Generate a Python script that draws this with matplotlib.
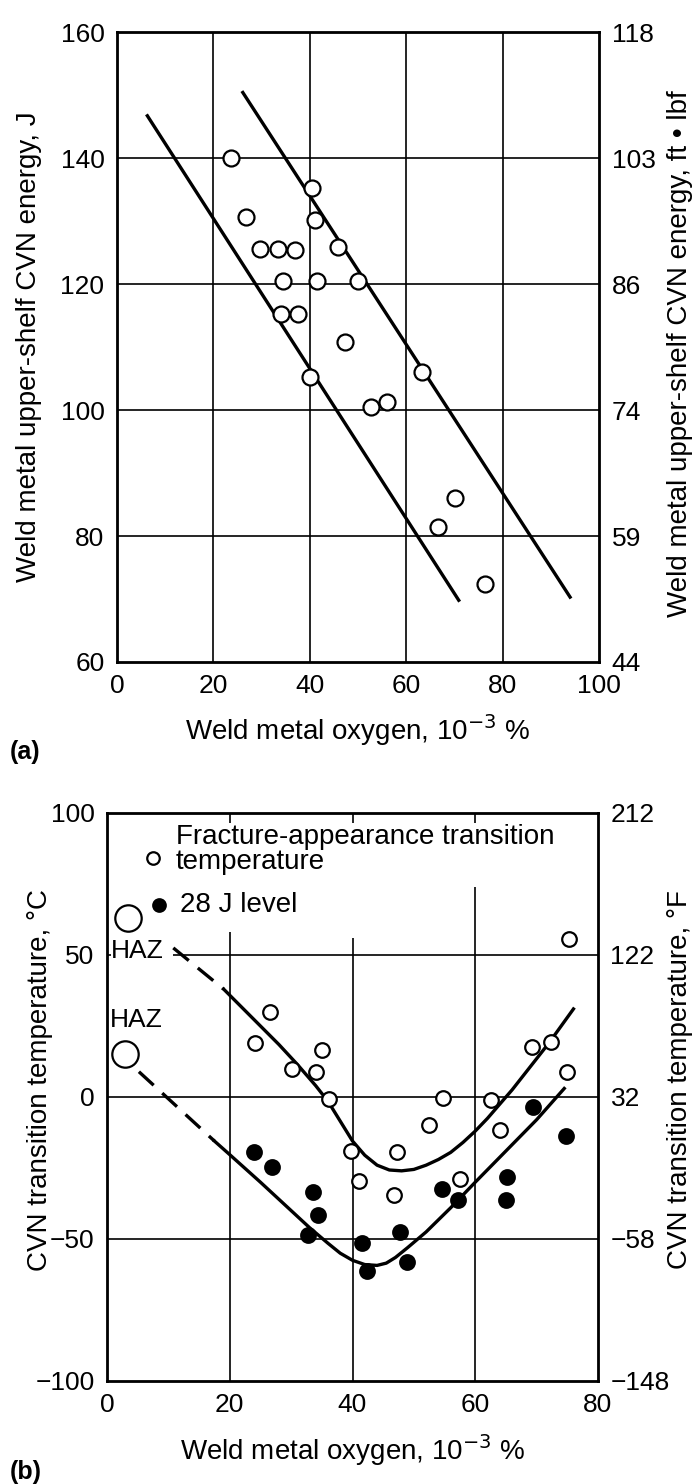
import numpy as np
import matplotlib
matplotlib.use("Agg")
import matplotlib.pyplot as plt

plt.rcParams['font.family'] = ['Liberation Sans', 'DejaVu Sans']

# (a) upper-shelf CVN energy vs oxygen
a_oxygen = [23.6, 26.8, 29.6, 33.4, 36.9, 34.4, 41.5, 50.1, 45.9, 40.4, 41.0, 34.1, 37.6,
            47.2, 40.0, 63.2, 52.8, 56.1, 70.1, 66.7, 76.4]
a_energy = [140, 130.7, 125.6, 125.6, 125.4, 120.5, 120.4, 120.5, 125.8, 135.2, 130.1, 115.3, 115.3,
            110.8, 105.2, 106.1, 100.4, 101.2, 86.0, 81.4, 72.4]
a_line_lo_x = [6.3, 70.9]
a_line_lo_y = [146.7, 69.8]
a_line_hi_x = [26.1, 94.0]
a_line_hi_y = [150.4, 70.3]
a_right_ticks = ['44', '59', '74', '86', '103', '118']

# (b) transition temperature vs oxygen
fatt_x = [26.6, 24.1, 35.0, 30.2, 34.1, 36.2, 39.75, 41.1, 47.2, 46.8, 52.4, 54.7, 57.5,
          62.5, 64.1, 69.25, 72.4, 74.9, 75.2]
fatt_y = [30.1, 18.9, 16.7, 9.7, 8.9, -0.6, -19.1, -29.7, -19.5, -34.6, -10, -0.2, -28.8,
          -0.9, -11.7, 17.7, 19.2, 8.9, 55.5]
j28_x = [23.9, 26.9, 33.6, 34.4, 32.7, 41.6, 42.3, 47.8, 48.8, 54.6, 57.25, 65.2, 65.0, 69.4, 74.75]
j28_y = [-19.3, -24.6, -33.4, -41.4, -48.6, -51.5, -61.4, -47.5, -58, -32.3, -36.3, -28.3, -36.3, -3.4, -13.7]
haz_x = [3.5, 3.0]
haz_y = [63, 15.2]

fatt_dash_x = [10.8, 19.0]
fatt_dash_y = [52.5, 38.0]
fatt_curve_x = [19, 22, 25, 28, 31, 34, 36, 38, 40, 42, 44, 46, 48, 50, 52, 54, 56,
                58, 60, 62, 64, 66, 68, 70, 72, 74, 76]
fatt_curve_y = [38, 31.5, 25, 18.5, 11.5, 4, -1.5, -8.5, -15.5, -20.5, -24, -25.7, -26, -25.5,
                -24, -22, -19.5, -16, -12, -7.5, -2.5, 2.5, 8, 13.5, 19, 25, 31]
j28_dash_x = [5.2, 17.5]
j28_dash_y = [8.9, -15.5]
j28_curve_x = [17.5, 20, 25, 30, 33, 36, 38, 40, 42, 44, 45.5, 47, 49, 52, 56, 60, 65, 70, 74.5]
j28_curve_y = [-15.5, -20.3, -30, -40, -46, -51.5, -55, -57.5, -59, -59.3, -58.5, -56.5, -53,
               -47.5, -39, -30, -19, -8, 3]
b_right_ticks = ['\u2212148', '\u221258', '32', '122', '212']

W, H = 696, 1484
fig = plt.figure(figsize=(W / 100, H / 100), dpi=100)

fs = 20      # axis labels, legend
fst = 19     # tick labels
lw_grid = 1.2

# ---- (a)
ax1 = fig.add_axes([117 / W, 1 - 662 / H, (599 - 117) / W, (662 - 32) / H])
ax1.set_xlim(0, 100)
ax1.set_ylim(60, 160)
for x in [20, 40, 60, 80]:
    ax1.axvline(x, color='black', lw=lw_grid, zorder=1)
for y in [80, 100, 120, 140]:
    ax1.axhline(y, color='black', lw=lw_grid, zorder=1)
ax1.plot(a_line_lo_x, a_line_lo_y, color='black', lw=2.4, zorder=2)
ax1.plot(a_line_hi_x, a_line_hi_y, color='black', lw=2.4, zorder=2)
ax1.plot(a_oxygen, a_energy, 'o', ms=11.5, mfc='white', mec='black', mew=1.6, zorder=3)
ax1.set_xticks([0, 20, 40, 60, 80, 100])
ax1.set_yticks([60, 80, 100, 120, 140, 160])
ax1.tick_params(length=0, labelsize=fst, pad=9)
ax1.set_xlabel('Weld metal oxygen, 10$^{-3}$ %', fontsize=fs, va='center')
ax1.xaxis.set_label_coords(0.5, (662 - 730) / 630)
ax1.set_ylabel('Weld metal upper-shelf CVN energy, J', fontsize=fs, va='center')
ax1.yaxis.set_label_coords((29 - 117) / 482, 0.5)
for s in ax1.spines.values():
    s.set_linewidth(2)
ax1r = ax1.twinx()
ax1r.set_ylim(60, 160)
ax1r.set_yticks([60, 80, 100, 120, 140, 160])
ax1r.set_yticklabels(a_right_ticks)
ax1r.tick_params(length=0, labelsize=fst, pad=9)
ax1r.set_ylabel('Weld metal upper-shelf CVN energy, ft \u2022 lbf', fontsize=fs, va='center')
ax1r.yaxis.set_label_coords((680 - 117) / 482, 0.49)
fig.text(10 / W, 1 - 752 / H, '(a)', fontsize=fs - 2, fontweight='bold', va='center')

# ---- (b)
ax2 = fig.add_axes([107 / W, 1 - 1381 / H, (598 - 107) / W, (1381 - 813) / H])
ax2.set_xlim(0, 80)
ax2.set_ylim(-100, 100)
ax2.vlines([20, 40, 60], -100, [58, 56, 74], color='black', lw=lw_grid, zorder=1)
ax2.vlines([20, 40, 60], 96.5, 100, color='black', lw=lw_grid, zorder=1)
ax2.hlines(50, 10.8, 80, color='black', lw=lw_grid, zorder=1)
ax2.hlines(50, 0, 0.6, color='black', lw=lw_grid, zorder=1)
ax2.hlines([0, -50], 0, 80, color='black', lw=lw_grid, zorder=1)
ax2.plot(fatt_dash_x, fatt_dash_y, color='black', lw=2.4, dashes=(6, 3.5), zorder=2)
ax2.plot(fatt_curve_x, fatt_curve_y, color='black', lw=2.4, zorder=2)
ax2.plot(j28_dash_x, j28_dash_y, color='black', lw=2.4, dashes=(6, 3.5), zorder=2)
ax2.plot(j28_curve_x, j28_curve_y, color='black', lw=2.4, zorder=2)
ax2.plot(fatt_x, fatt_y, 'o', ms=10.5, mfc='white', mec='black', mew=1.6, zorder=3)
ax2.plot(j28_x, j28_y, 'o', ms=10.5, mfc='black', mec='black', mew=1.6, zorder=3)
ax2.plot(haz_x, haz_y, 'o', ms=19, mfc='white', mec='black', mew=1.6, zorder=3)
ax2.text(0.7, 51.5, 'HAZ', fontsize=fs - 1, va='center', ha='left')
ax2.text(0.5, 27, 'HAZ', fontsize=fs - 1, va='center', ha='left')
# legend drawn in place
ax2.plot([7.5], [84], 'o', ms=9, mfc='white', mec='black', mew=1.6)
ax2.plot([8.4], [67.6], 'o', ms=9, mfc='black', mec='black', mew=1.6)
ax2.text(11.2, 87, 'Fracture-appearance transition\ntemperature', fontsize=fs,
         va='center', ha='left', linespacing=0.95)
ax2.text(11.9, 67.6, '28 J level', fontsize=fs, va='center', ha='left')
ax2.set_xticks([0, 20, 40, 60, 80])
ax2.set_yticks([-100, -50, 0, 50, 100])
ax2.set_yticklabels(['\u2212100', '\u221250', '0', '50', '100'])
ax2.tick_params(length=0, labelsize=fst, pad=9)
ax2.set_xlabel('Weld metal oxygen, 10$^{-3}$ %', fontsize=fs, va='center')
ax2.xaxis.set_label_coords(0.5, (1381 - 1450) / 568)
ax2.set_ylabel('CVN transition temperature, \u00b0C', fontsize=fs, va='center')
ax2.yaxis.set_label_coords((40 - 107) / 491, 0.53)
for s in ax2.spines.values():
    s.set_linewidth(2)
ax2r = ax2.twinx()
ax2r.set_ylim(-100, 100)
ax2r.set_yticks([-100, -50, 0, 50, 100])
ax2r.set_yticklabels(b_right_ticks)
ax2r.tick_params(length=0, labelsize=fst, pad=9)
ax2r.set_ylabel('CVN transition temperature, \u00b0F', fontsize=fs, va='center')
ax2r.yaxis.set_label_coords((680 - 107) / 491, 0.53)
fig.text(10 / W, 1 - 1472 / H, '(b)', fontsize=fs - 2, fontweight='bold', va='center')

fig.savefig('out.png', dpi=100)
